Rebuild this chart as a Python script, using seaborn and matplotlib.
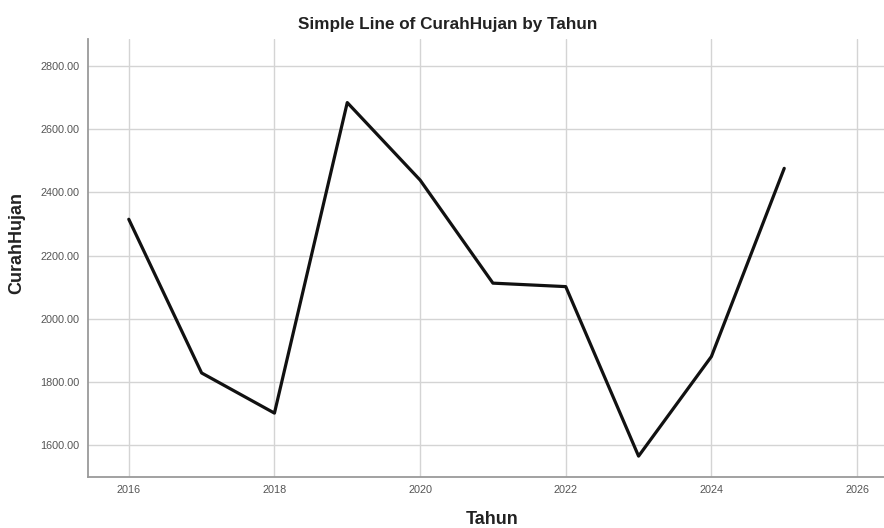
import matplotlib
matplotlib.use("Agg")
import matplotlib.pyplot as plt
import seaborn as sns
import pandas as pd

years = [2016, 2017, 2018, 2019, 2020, 2021, 2022, 2023, 2024, 2025]
curah_hujan = [2315, 1829, 1702, 2684, 2439, 2113, 2102, 1566, 1881, 2476]
y_ticks = [1600, 1800, 2000, 2200, 2400, 2600, 2800]
x_ticks = [2016, 2018, 2020, 2022, 2024, 2026]

sns.set_theme(style="white")
plt.rcParams['font.family'] = ['Liberation Sans', 'DejaVu Sans']

df = pd.DataFrame({"Tahun": years, "CurahHujan": curah_hujan})

fig = plt.figure(figsize=(8.84, 5.28), dpi=100)
ax = fig.add_axes([88/884, 1 - 477/528, 1 - 88/884, (477 - 39)/528])

sns.lineplot(data=df, x="Tahun", y="CurahHujan", ax=ax, color="#111111",
             linewidth=2.3, zorder=3)

ax.set_xlim(2015.44, 2026.37)
ax.set_ylim(1500, 2885)
ax.set_xticks(x_ticks)
ax.set_xticklabels([str(t) for t in x_ticks])
ax.set_yticks(y_ticks)
ax.set_yticklabels([f"{t:.2f}" for t in y_ticks])
ax.grid(True, color="#d4d4d4", linewidth=1.0)
ax.set_axisbelow(True)
for s in ["top", "right"]:
    ax.spines[s].set_visible(False)
for s in ["left", "bottom"]:
    ax.spines[s].set_color("#9a9a9a")
    ax.spines[s].set_linewidth(1.3)
ax.tick_params(axis="both", labelsize=7.8, colors="#555555", length=0, pad=6)

ax.set_xlabel("")
ax.set_ylabel("")
fig.text(17/884, 1 - 243/528, "CurahHujan", rotation=90, ha="center", va="center",
         fontsize=13, fontweight="bold", color="#222222")
fig.text(492/884, 1 - 519/528, "Tahun", ha="center", va="center",
         fontsize=13, fontweight="bold", color="#222222")
fig.text(448/884, 1 - 25/528, "Simple Line of CurahHujan by Tahun", ha="center",
         va="center", fontsize=12.3, fontweight="bold", color="#222222")

fig.savefig("out.png", dpi=100)
